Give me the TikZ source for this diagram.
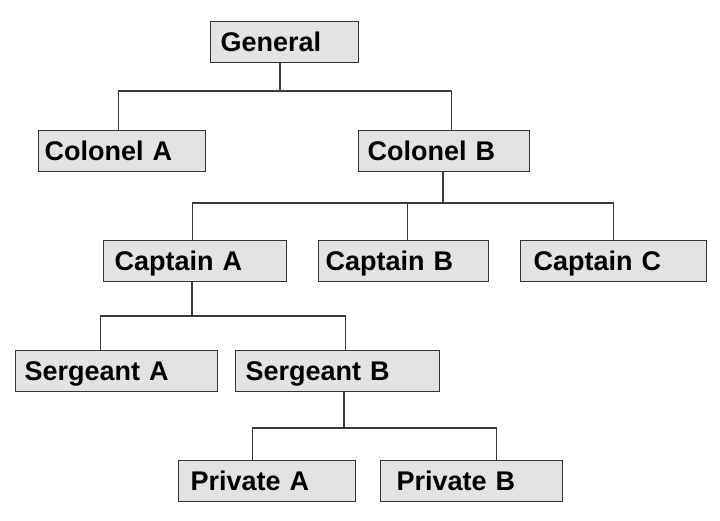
\documentclass[tikz,border=0pt]{standalone}
\usepackage{xcolor}
\usepackage{fontspec}
\setmainfont{Liberation Sans}
\usepackage{tikz}

\definecolor{boxfill}{HTML}{E3E3E3}
\definecolor{boxline}{HTML}{333333}
\definecolor{wire}{HTML}{3A3A3A}

\tikzset{
  rank/.style={draw=boxline, fill=boxfill, line width=1.2pt, anchor=north west,
    minimum height=40.5pt, text height=19.5pt, text depth=0pt, align=left,
    font=\fontsize{27}{27}\selectfont\bfseries},
  link/.style={draw=wire, line width=1.1pt}
}

\begin{document}
\begin{tikzpicture}[x=1pt,y=-1pt]
\useasboundingbox (0,0) rectangle (720,520);
%Boxes
\node [rank, inner xsep=10pt, text width=128pt] (gen) at (210,21) {General};
\node [rank, inner xsep=6pt, text width=155pt] (cola) at (38,130) {Colonel A};
\node [rank, inner xsep=9pt, text width=153pt] (colb) at (358,130) {Colonel B};
\node [rank, inner xsep=11pt, text width=161pt] (capa) at (103,240) {Captain A};
\node [rank, inner xsep=7pt, text width=156pt] (capb) at (318,240) {Captain B};
\node [rank, inner xsep=13pt, text width=160pt] (capc) at (520,240) {Captain C};
\node [rank, inner xsep=9pt, text width=184pt] (sera) at (15,350) {Sergeant A};
\node [rank, inner xsep=10pt, text width=184pt] (serb) at (235,350) {Sergeant B};
\node [rank, inner xsep=12pt, text width=153pt] (pria) at (178,460) {Private A};
\node [rank, inner xsep=16pt, text width=150pt] (prib) at (380,460) {Private B};
%Junctions
\coordinate (bus1) at (280,91);
\coordinate (bus2) at (443,203);
\coordinate (bus3) at (192,316);
\coordinate (bus4) at (344,428);
%Links
\draw [link] (gen.south -| bus1) -- (bus1);
\draw [link] ([xshift=-3.5pt]cola.north) |- (bus1) -| ([xshift=7.5pt]colb.north);
\draw [link] (colb.south -| bus2) -- (bus2);
\draw [link] ([xshift=-2.5pt]capa.north) |- (bus2) -| ([xshift=3.5pt]capb.north);
\draw [link] (bus2) -| (capc.north);
\draw [link] (capa.south -| bus3) -- (bus3);
\draw [link] ([xshift=-16.5pt]sera.north) |- (bus3) -| ([xshift=7.5pt]serb.north);
\draw [link] (serb.south -| bus4) -- (bus4);
\draw [link] ([xshift=-14.5pt]pria.north) |- (bus4) -| ([xshift=25pt]prib.north);
\end{tikzpicture}
\end{document}
